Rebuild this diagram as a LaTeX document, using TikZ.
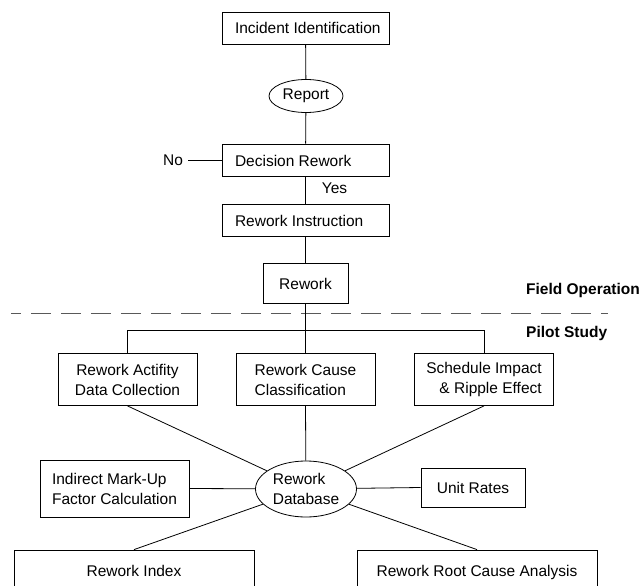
\documentclass[tikz,border=0pt]{standalone}
\usepackage{fontspec}
\setmainfont{Liberation Sans}
\usetikzlibrary{shapes.geometric}
\begin{document}
\begin{tikzpicture}[x=1pt,y=-1pt,
  every node/.style={font=\fontsize{15.5}{20}\selectfont},
  box/.style={draw, line width=0.8pt, inner sep=0pt, rectangle},
  one/.style={text height=14pt, text depth=2pt},
  oval/.style={draw, line width=0.8pt, inner sep=0pt, ellipse},
  conn/.style={line width=0.8pt},
  dashline/.style={line width=1.2pt, draw=black!65, dash pattern=on 20pt off 10pt, dash phase=10pt},
  lbl/.style={inner sep=0pt, font=\fontsize{15.5}{20}\selectfont\bfseries, anchor=west},
  plain/.style={inner sep=0pt}]
\useasboundingbox (0,0) rectangle (640,586);
\clip (0,0) rectangle (640,586);
% field operation
\node[box, one, minimum width=167pt, minimum height=32pt] (inc) at (305.5,28) {\makebox[141pt][l]{Incident Identification}};
\node[oval, minimum width=74pt, minimum height=33pt] (rep) at (306,96) {Report};
\node[box, one, minimum width=167pt, minimum height=32pt] (dec) at (305.5,160) {\makebox[141pt][l]{Decision Rework}};
\node[plain] (no) at (173,160) {No};
\coordinate (nol) at (188,160);
\node[plain] (yes) at (334.5,188) {Yes};
\node[box, one, minimum width=167pt, minimum height=32pt] (ri) at (305.5,220) {\makebox[141pt][l]{Rework Instruction}};
\node[box, one, minimum width=85pt, minimum height=40pt] (rw) at (305.5,283) {Rework};
\draw[conn] (inc) -- (rep);
\draw[conn] (rep) -- (dec);
\draw[conn] (dec) -- (ri);
\draw[conn] (ri) -- (rw);
\draw[conn] (nol) -- (dec.west);
% divider
\coordinate (dl) at (11,313.5);
\coordinate (dr) at (608,313.5);
\draw[dashline] (dl) -- (dr);
\node[lbl] (fo) at (526,290) {Field Operation};
\node[lbl] (ps) at (526,333) {Pilot Study};
% pilot study
\node[box, minimum width=139pt, minimum height=52pt, align=center] (b1) at (127.5,379.5) {Rework Actifity\\Data Collection};
\node[box, minimum width=139pt, minimum height=52pt, align=left] (b2) at (305.5,379.5) {Rework Cause\\Classification};
\node[box, minimum width=139pt, minimum height=52pt, align=right] (b3) at (484,379.5) {Schedule Impact\\\& Ripple Effect};
\coordinate (bc) at (305.5,330);
\draw[conn] (rw) -- (b2);
\draw[conn] (b1.north) -- (b1.north |- bc) -- (b3.north |- bc) -- (b3.north);
\node[oval, minimum width=101pt, minimum height=56pt, align=left] (db) at (306,489) {Rework\\Database};
\node[box, minimum width=149pt, minimum height=57pt, align=left] (ind) at (114.5,488.5) {Indirect Mark-Up\\Factor Calculation};
\node[box, one, minimum width=104pt, minimum height=39pt] (ur) at (473,487.5) {Unit Rates};
\node[box, one, minimum width=240pt, minimum height=40pt] (idx) at (134,570) {Rework Index};
\node[box, one, minimum width=240pt, minimum height=40pt] (rc) at (477,570) {Rework Root Cause Analysis};
\draw[conn] (b1.south) -- (db);
\draw[conn] (b2.south) -- (db);
\draw[conn] (b3.south) -- (db);
\draw[conn] (ind.east) -- (db);
\draw[conn] (db) -- (ur.west);
\draw[conn] (idx.north) -- (db);
\draw[conn] (rc.north) -- (db);
\end{tikzpicture}
\end{document}
